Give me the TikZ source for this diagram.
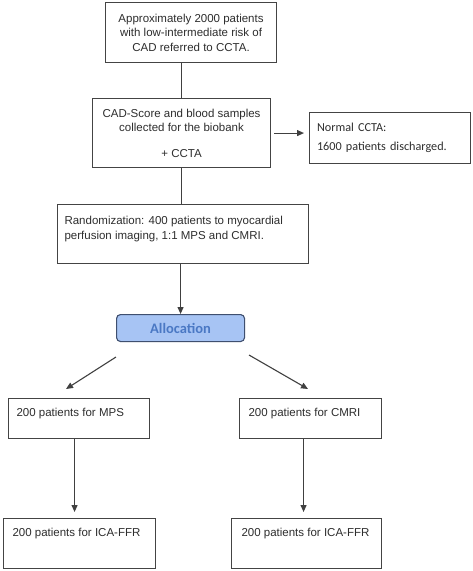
\documentclass[tikz,border=0pt]{standalone}
\usepackage{fontspec}
\setmainfont{Liberation Sans}
\newfontfamily\calib{Carlito}
\usetikzlibrary{arrows.meta,calc}
\definecolor{boxc}{HTML}{444444}
\definecolor{txtc}{HTML}{2E2E2E}
\definecolor{linec}{HTML}{404040}
\definecolor{allocfill}{HTML}{A7C4F4}
\definecolor{allocdraw}{HTML}{3F4F6F}
\definecolor{alloctxt}{HTML}{4A78C4}
\newcommand{\topbox}[5]{\parbox[t][#2][t]{#1}{\vspace*{#5}\leftskip=#3\relax\rightskip=0pt plus 1fil\relax #4\par}}
\begin{document}
\begin{tikzpicture}[x=1pt,y=-1pt,
  box/.style={draw=boxc, line width=1.1pt, inner sep=0pt, anchor=north west, text=txtc,
    font=\fontsize{11.5}{14.5}\selectfont},
  conn/.style={draw=linec, line width=1.1pt},
  arr/.style={conn, -{Triangle[length=7pt,width=6pt]}}]
\useasboundingbox (0,0) rectangle (472,571);
\fill[white] (0,0) rectangle (472,571);

\node[box, minimum width=171pt, minimum height=60pt, align=center] (b1) at (105,2)
  {Approximately 2000 patients\\with low-intermediate risk of\\CAD referred to CCTA.};
\node[box, minimum width=178pt, minimum height=69pt, align=center] (b2) at (92,98)
  {CAD-Score and blood samples\\collected for the biobank\\[11pt]+ CCTA};
\node[box, minimum width=161pt, minimum height=51pt, align=left, text width=146pt,
  inner xsep=7.5pt, font=\calib\fontsize{12.2}{18.5}\selectfont] (b3) at (309,112)
  {Normal CCTA:\\1600 patients discharged.};
\node[box] (b4) at (57,204)
  {\topbox{251pt}{59pt}{7pt}{Randomization: 400 patients to myocardial\\perfusion imaging, 1:1 MPS and CMRI.}{12pt}};
\node[box, draw=allocdraw, fill=allocfill, rounded corners=4pt, minimum width=128pt,
  minimum height=27pt, text=alloctxt, font=\calib\bfseries\fontsize{14.5}{16}\selectfont] (alloc) at (116,314)
  {Allocation};
\node[box] (mps) at (8,398) {\topbox{141pt}{40pt}{8pt}{200 patients for MPS}{10pt}};
\node[box] (cmri) at (239,398) {\topbox{142pt}{40pt}{9pt}{200 patients for CMRI}{10pt}};
\node[box] (ical) at (3,518) {\topbox{152pt}{50pt}{9pt}{200 patients for ICA-FFR}{9.5pt}};
\node[box] (icar) at (231,518) {\topbox{150pt}{50pt}{10pt}{200 patients for ICA-FFR}{9.5pt}};

\coordinate (d1s) at (116,357);
\coordinate (d1e) at (66,389);
\coordinate (d2s) at (249,355);
\coordinate (d2e) at (308,389);

\draw[conn] (b2.north |- b1.south) -- (b2.north);
\draw[conn] (b2.south) -- (b2.south |- b4.north);
\draw[arr] (alloc.north |- b4.south) -- (alloc.north);
\draw[arr, shorten <=3pt, shorten >=5pt] (b2.east) -- (b3.west |- b2.east);
\draw[arr] (d1s) -- (d1e);
\draw[arr] (d2s) -- (d2e);
\draw[arr, shorten >=6pt] ([xshift=-4.5pt]mps.south) -- ([xshift=-4.5pt]mps.south |- ical.north);
\draw[arr, shorten >=6pt] ([xshift=-7pt]cmri.south) -- ([xshift=-7pt]cmri.south |- icar.north);
\end{tikzpicture}
\end{document}
